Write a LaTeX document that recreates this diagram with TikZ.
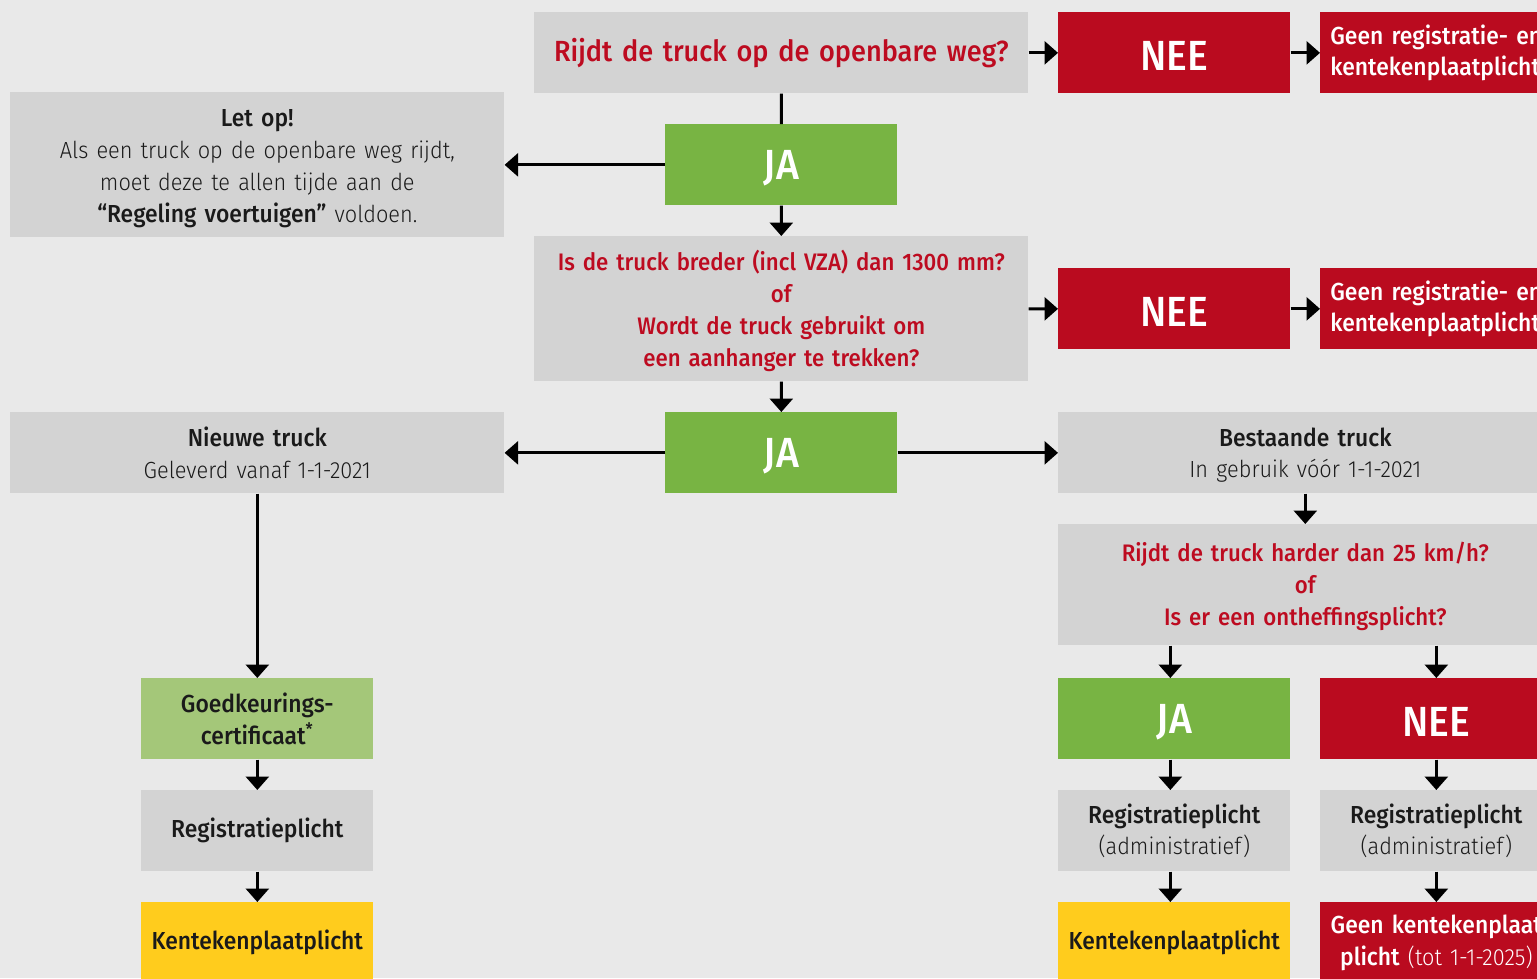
\documentclass[tikz,border=0pt]{standalone}
\usepackage{fontspec}
\setmainfont{Fira Sans}[FakeStretch=0.93]
\newfontfamily\lt{Fira Sans Light}[FakeStretch=0.93]
\newfontfamily\md{Fira Sans Medium}[FakeStretch=0.93]
\usetikzlibrary{arrows.meta}
\definecolor{bgc}{HTML}{E9E9E9}
\definecolor{boxg}{HTML}{D3D3D3}
\definecolor{rd}{HTML}{BA0B1F}
\definecolor{qred}{HTML}{BD0B20}
\definecolor{gr}{HTML}{78B443}
\definecolor{lgr}{HTML}{A4C779}
\definecolor{yl}{HTML}{FFCC1D}
\definecolor{tx}{HTML}{1A1A1A}
\newcommand{\lowered}[1]{\raisebox{-0.06cm}[\height][\depth]{#1}}
\newcommand{\lighttext}[1]{{\lt\fontsize{13.3}{18.1}\selectfont #1}}
\begin{document}
\begin{tikzpicture}[x=0.02cm,y=-0.02cm,
  box/.style={anchor=north west, inner sep=0pt, align=center, text=tx,
    font=\md\fontsize{14}{18.1}\selectfont},
  wide/.style={minimum width=9.88cm, text width=9.88cm},
  narrow/.style={minimum width=4.64cm, text width=4.64cm},
  h81/.style={minimum height=1.62cm},
  greybox/.style={box, fill=boxg},
  redbox/.style={box, fill=rd, text=white},
  bigtext/.style={font=\md\fontsize{24}{26}\selectfont},
  qtext/.style={text=qred, font=\md\fontsize{13.6}{18.1}\selectfont},
  geenbox/.style={box, fill=rd, text=white, align=left, inner xsep=0.2cm,
    text width=4.24cm, h81, font=\md\fontsize{14}{17.6}\selectfont},
  conn/.style={line width=1.7pt, draw=black},
  arr/.style={conn, -{Triangle[width=0.46cm,length=0.27cm]}}
]
\useasboundingbox (0,0) rectangle (1537,978);
\clip (0,0) rectangle (1537,978);
\fill[bgc] (0,0) rectangle (1537,978);

% row 1
\node[greybox, wide, h81, text=qred, font=\md\fontsize{16.6}{21}\selectfont] (q1) at (534,12) {Rijdt de truck op de openbare weg?};
\node[redbox, narrow, h81, bigtext] (nee1) at (1058,12) {\lowered{NEE}};
\node[geenbox] (g1) at (1320,12) {Geen registratie- en\\kentekenplaatplicht};

\node[greybox, wide, minimum height=2.9cm] (letop) at (10,92) {\raisebox{-0.08cm}[\height][\depth]{\parbox{9.88cm}{\centering Let op!\\\lighttext{Als een truck op de openbare weg rijdt,}\\\lighttext{moet deze te allen tijde aan de}\\“Regeling voertuigen”\lighttext{ voldoen.}}}};
\node[box, fill=gr, text=white, narrow, h81, bigtext] (ja1) at (665,124) {\lowered{JA}};

% row 2
\node[greybox, wide, minimum height=2.9cm, qtext] (q2) at (534,236) {\raisebox{-0.04cm}[\height][\depth]{\parbox{9.88cm}{\centering Is de truck breder (incl VZA) dan 1300 mm?\\of\\Wordt de truck gebruikt om\\een aanhanger te trekken?}}};
\node[redbox, narrow, h81, bigtext] (nee2) at (1058,268) {\lowered{NEE}};
\node[geenbox] (g2) at (1320,268) {Geen registratie- en\\kentekenplaatplicht};

% row 3
\node[greybox, wide, h81] (nieuw) at (10,412) {Nieuwe truck\\\lighttext{Geleverd vanaf 1-1-2021}};
\node[box, fill=gr, text=white, narrow, h81, bigtext] (ja2) at (665,412) {\lowered{JA}};
\node[greybox, wide, h81] (best) at (1058,412) {Bestaande truck\\\lighttext{In \smash{g}ebruik v\smash{óó}r 1-1-2021}};

\node[greybox, wide, minimum height=2.42cm, qtext] (q3) at (1058,524) {\raisebox{-0.03cm}[\height][\depth]{\parbox{9.88cm}{\centering Rijdt de truck harder dan 25 km/h?\\of\\Is er een ontheffingsplicht?}}};

% bottom left
\node[box, fill=lgr, narrow, h81] (goed) at (141,678) {Goedkeurings-\\certificaat\textsuperscript{*}};
\node[greybox, narrow, h81] (reg1) at (141,790) {Registratieplicht};
\node[box, fill=yl, narrow, h81] (kent1) at (141,902) {Kentekenplaatplicht};

% bottom right
\node[box, fill=gr, text=white, narrow, h81, bigtext] (ja3) at (1058,678) {\lowered{JA}};
\node[redbox, narrow, h81, bigtext] (nee3) at (1320,678) {\lowered{NEE}};
\node[greybox, narrow, h81] (reg2) at (1058,790) {Registratieplicht\\\lighttext{(administratief)}};
\node[greybox, narrow, h81] (reg3) at (1320,790) {Registratieplicht\\\lighttext{(administratief)}};
\node[box, fill=yl, narrow, h81] (kent2) at (1058,902) {Kentekenplaatplicht};
\node[redbox, narrow, h81] (geenk) at (1320,902) {Geen kentekenplaat\\plicht\lighttext{ (tot 1-1-2025)}};

% connectors
\draw[conn] (q1.south) -- (ja1.north);
\draw[arr] (q1.east) -- (nee1.west);
\draw[arr] (nee1.east) -- (g1.west);
\draw[arr] (ja1.west) -- (letop.east |- ja1.west);
\draw[arr] (ja1.south) -- (q2.north);
\draw[arr] (q2.east) -- (nee2.west);
\draw[arr] (nee2.east) -- (g2.west);
\draw[arr] (q2.south) -- (ja2.north);
\draw[arr] (ja2.west) -- (nieuw.east);
\draw[arr] (ja2.east) -- (best.west);
\draw[arr] (best.south) -- (q3.north);
\draw[arr] ([xshift=-0.08cm]q3.south -| ja3.north) -- ([xshift=-0.08cm]ja3.north);
\draw[arr] (q3.south -| nee3.north) -- (nee3.north);
\draw[arr] (nieuw.south -| goed.north) -- (goed.north);
\draw[arr] (goed.south) -- (reg1.north);
\draw[arr] (reg1.south) -- (kent1.north);
\draw[arr] ([xshift=-0.08cm]ja3.south) -- ([xshift=-0.08cm]reg2.north);
\draw[arr] ([xshift=-0.08cm]reg2.south) -- ([xshift=-0.08cm]kent2.north);
\draw[arr] (nee3.south) -- (reg3.north);
\draw[arr] (reg3.south) -- (geenk.north);
\end{tikzpicture}
\end{document}
